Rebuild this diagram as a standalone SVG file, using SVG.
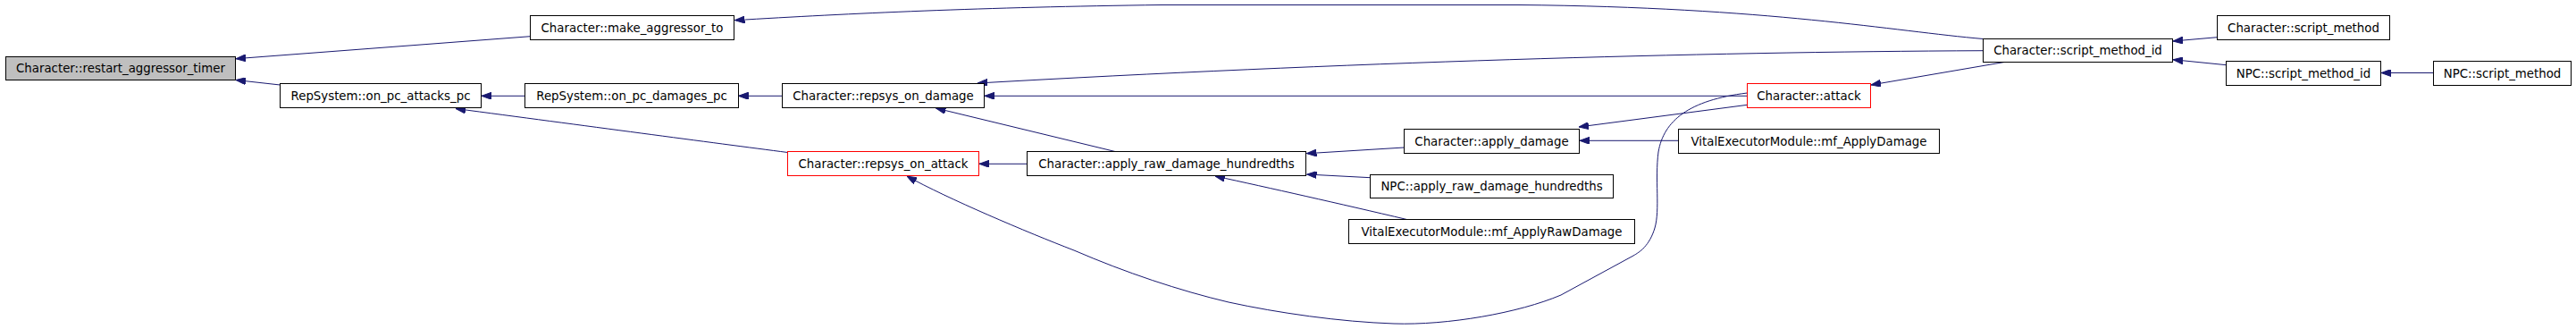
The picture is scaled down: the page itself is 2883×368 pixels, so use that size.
<svg xmlns="http://www.w3.org/2000/svg" width="2883" height="368" viewBox="0 0 2883 368">
<style>
.n rect{fill:#ffffff;stroke:#000000;stroke-width:1}
.n.red rect{stroke:#ff0000}
.n.root rect{fill:#bfbfbf}
.n text{font-family:"DejaVu Sans",Verdana,sans-serif;font-size:13.33px;fill:#000000;text-anchor:middle}
.e path{fill:none;stroke:#191970;stroke-width:1;marker-end:url(#arr)}
</style>
<defs>
<marker id="arr" markerUnits="userSpaceOnUse" viewBox="0 0 11 8" markerWidth="11" markerHeight="8" refX="11" refY="4" orient="auto">
<path d="M0,0 L11,4 L0,8 z" fill="#191970" stroke="#191970" stroke-width="1"/>
</marker>
</defs>
<rect x="0" y="0" width="2883" height="368" fill="#ffffff"/>
<g id="edges" class="e">
<path d="M593.5,40.7 L264,65.7"/>
<path d="M313.5,95 L264,89.5"/>
<path d="M587.5,107.3 L539,107.3"/>
<path d="M881.5,170.5 C800,160 650,140 510,121.5"/>
<path d="M875.5,107.3 L826.5,107.3"/>
<path d="M2219.5,43.5 C2120,35 1980,8 1700,5.5 L1300,5.5 C1100,8 950,15 822.5,22.7"/>
<path d="M2219.5,56.7 C1900,58 1500,70 1094,93"/>
<path d="M1955.5,107.3 L1102,107.3"/>
<path d="M2243,69.5 L2094,95"/>
<path d="M1248,169.5 L1047.5,121"/>
<path d="M1149.5,183.3 L1096,183.3"/>
<path d="M1571.5,165 L1462.5,171.7"/>
<path d="M1533.5,198.7 L1462.5,195"/>
<path d="M1574.5,245.5 C1500,228 1420,210 1360,197"/>
<path d="M1955.5,117.3 L1767,142"/>
<path d="M1878.5,157.3 L1768,157.3"/>
<path d="M1955.5,104 C1890,112 1862,135 1856,170 C1852,200 1858,235 1852,255 C1846,275 1835,282 1828,286 L1747,330 C1700,350 1620,364 1560,362 C1500,360 1430,350 1375,338 C1320,325 1260,305 1202,280 C1150,260 1060,222 1015,197"/>
<path d="M2481.5,41.7 L2432,46"/>
<path d="M2491.5,72.7 L2432,66.7"/>
<path d="M2723.5,81.5 L2665,81.5"/>
</g>
<g id="node_restart_aggressor_timer" class="n root"><rect x="6.5" y="63.5" width="257" height="26"/><text x="135" y="81.2">Character::restart_aggressor_timer</text></g>
<g id="node_make_aggressor_to" class="n"><rect x="593.5" y="17.5" width="228" height="27"/><text x="707.5" y="35.7">Character::make_aggressor_to</text></g>
<g id="node_on_pc_attacks_pc" class="n"><rect x="313.5" y="93.5" width="225" height="27"/><text x="426" y="111.7">RepSystem::on_pc_attacks_pc</text></g>
<g id="node_on_pc_damages_pc" class="n"><rect x="587.5" y="93.5" width="239" height="27"/><text x="707" y="111.7">RepSystem::on_pc_damages_pc</text></g>
<g id="node_repsys_on_damage" class="n"><rect x="875.5" y="93.5" width="226" height="27"/><text x="988.5" y="111.7">Character::repsys_on_damage</text></g>
<g id="node_repsys_on_attack" class="n red"><rect x="881.5" y="169.5" width="214" height="27"/><text x="988.5" y="187.7">Character::repsys_on_attack</text></g>
<g id="node_apply_raw_damage_hundredths" class="n"><rect x="1149.5" y="169.5" width="312" height="27"/><text x="1305.5" y="187.7">Character::apply_raw_damage_hundredths</text></g>
<g id="node_apply_damage" class="n"><rect x="1571.5" y="144.5" width="196" height="27"/><text x="1669.5" y="162.7">Character::apply_damage</text></g>
<g id="node_npc_apply_raw_damage_hundredths" class="n"><rect x="1533.5" y="195.5" width="272" height="26"/><text x="1669.5" y="213.2">NPC::apply_raw_damage_hundredths</text></g>
<g id="node_mf_ApplyRawDamage" class="n"><rect x="1509.5" y="245.5" width="320" height="27"/><text x="1669.5" y="263.7">VitalExecutorModule::mf_ApplyRawDamage</text></g>
<g id="node_attack" class="n red"><rect x="1955.5" y="93.5" width="138" height="27"/><text x="2024.5" y="111.7">Character::attack</text></g>
<g id="node_mf_ApplyDamage" class="n"><rect x="1878.5" y="144.5" width="292" height="27"/><text x="2024.5" y="162.7">VitalExecutorModule::mf_ApplyDamage</text></g>
<g id="node_script_method_id" class="n"><rect x="2219.5" y="43.5" width="212" height="26"/><text x="2325.5" y="61.2">Character::script_method_id</text></g>
<g id="node_script_method" class="n"><rect x="2481.5" y="17.5" width="193" height="27"/><text x="2578" y="35.7">Character::script_method</text></g>
<g id="node_npc_script_method_id" class="n"><rect x="2491.5" y="68.5" width="173" height="27"/><text x="2578" y="86.7">NPC::script_method_id</text></g>
<g id="node_npc_script_method" class="n"><rect x="2723.5" y="68.5" width="154" height="27"/><text x="2800.5" y="86.7">NPC::script_method</text></g>
</svg>
